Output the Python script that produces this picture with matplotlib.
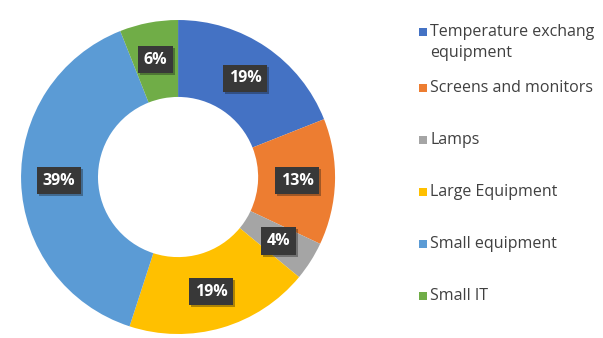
import matplotlib.pyplot as plt
import matplotlib.patheffects as pe
from matplotlib.patches import Rectangle

categories = ["Temperature exchang\nequipment", "Screens and monitors", "Lamps",
              "Large Equipment", "Small equipment", "Small IT"]
shares = [19, 13, 4, 19, 39, 6]
colors = ["#4472C4", "#ED7D31", "#A5A5A5", "#FFC000", "#5B9BD5", "#70AD47"]

plt.rcParams['font.family'] = ['Open Sans', 'DejaVu Sans']

fig = plt.figure(figsize=(6.03, 3.38), dpi=100)
ax = fig.add_axes([0.0348, 0.0118, 0.521, 0.929])

wedges, _, autotexts = ax.pie(
    shares, colors=colors, startangle=90, counterclock=False,
    autopct=lambda p: f"{p:.0f}%", pctdistance=0.76, radius=1.0,
    wedgeprops=dict(width=0.49, linewidth=0),
    textprops=dict(color="white", fontsize=11.5, fontweight="bold", zorder=5))
for t in autotexts:
    t.set_bbox(dict(boxstyle="square,pad=0.35", facecolor="#383838", edgecolor="none"))
    # soft drop shadow under the value box
    t.get_bbox_patch().set_path_effects(
        [pe.SimplePatchShadow(offset=(1.5, -1.5), alpha=0.35), pe.Normal()])
ax.set_xlim(-1, 1)
ax.set_ylim(-1, 1)
ax.set_aspect("equal")

# legend drawn by hand so the spacing follows the layout
legend_y = [32, 88, 140, 192, 244, 296]
for name, col, y in zip(categories, colors, legend_y):
    fy = 1 - y / 338
    fig.add_artist(Rectangle((419 / 603, fy - 4 / 338), 8 / 603, 8 / 338,
                             transform=fig.transFigure, facecolor=col, edgecolor="none"))
    lines = name.split("\n")
    for i, line in enumerate(lines):
        fig.text(430 / 603, fy - i * 21 / 338, line, fontsize=11.5,
                 color="#404040", va="center", ha="left")

fig.savefig("out.png", dpi=100)
